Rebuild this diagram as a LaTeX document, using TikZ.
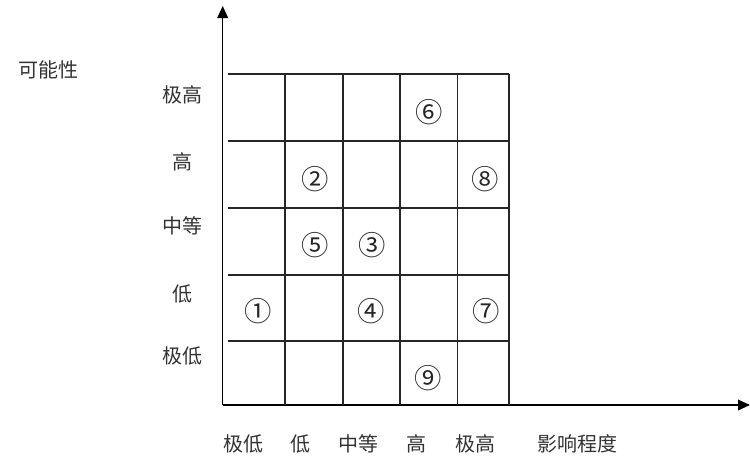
\documentclass[tikz,border=0pt]{standalone}
\usepackage{fontspec}
\setmainfont{Noto Sans CJK SC}
\usetikzlibrary{arrows.meta}
\begin{document}
\begin{tikzpicture}[x=0.75pt,y=-0.75pt,
  gridline/.style={line width=1pt,draw=black!85},
  axisline/.style={line width=1pt,draw=black,-{Triangle[length=9pt,width=8pt]}},
  lbl/.style={inner sep=0pt,text=black!80,font=\fontsize{15}{18}\selectfont},
  itemlbl/.style={inner sep=0pt,text=black!85,font=\fontsize{20.5}{24}\selectfont}]
\useasboundingbox (0,0) rectangle (750,461);
% axes
\coordinate (o) at (222.7,405);
\coordinate (ytop) at (222.7,6);
\coordinate (xend) at (750,405);
\draw[axisline] (o) -- (ytop);
\draw[axisline] (o) -- (xend);
% grid
\foreach \yy in {74,141,208,275,341}
  \draw[gridline] (228,\yy) -- (509,\yy);
\foreach \xx in {285,343,400,457.5,509}
  \draw[gridline] (\xx,74) -- (\xx,405);
% y labels
\node[lbl] (ya) at (48,70) {可能性};
\node[lbl] (y5) at (182,95) {极高};
\node[lbl] (y4) at (182,162) {高};
\node[lbl] (y3) at (182,226) {中等};
\node[lbl] (y2) at (182,294) {低};
\node[lbl] (y1) at (182,356) {极低};
% x labels
\node[lbl] (x1) at (243.5,444) {极低};
\node[lbl] (x2) at (300,444) {低};
\node[lbl] (x3) at (358,444) {中等};
\node[lbl] (x4) at (416,444) {高};
\node[lbl] (x5) at (475,444) {极高};
\node[lbl] (xa) at (577,444) {影响程度};
% items
\node[itemlbl] (m1) at (257.7,311.5) {①};
\node[itemlbl] (m2) at (315,179) {②};
\node[itemlbl] (m3) at (371.7,245.5) {③};
\node[itemlbl] (m4) at (371,311.5) {④};
\node[itemlbl] (m5) at (315,245.5) {⑤};
\node[itemlbl] (m6) at (429,112) {⑥};
\node[itemlbl] (m7) at (486.5,311.5) {⑦};
\node[itemlbl] (m8) at (485,179) {⑧};
\node[itemlbl] (m9) at (428.3,378) {⑨};
\end{tikzpicture}
\end{document}
